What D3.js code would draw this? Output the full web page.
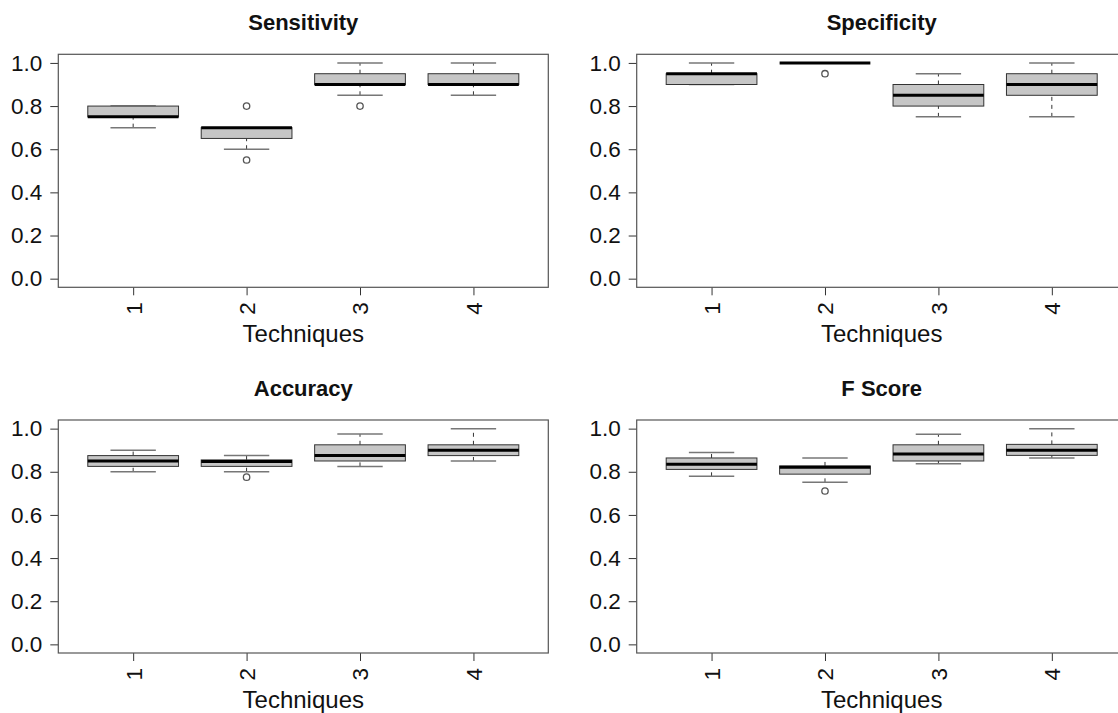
<!DOCTYPE html>
<html>
<head>
<meta charset="utf-8">
<script src="https://cdn.jsdelivr.net/npm/d3@7"></script>
<style>
  body { margin: 0; background: #fff; }
  svg { display: block; font-family: "Liberation Sans", Arial, Helvetica, sans-serif; }
  .tick line { stroke: #333; }
</style>
</head>
<body>
<div id="chart"></div>
<script>

var techniques = ["1", "2", "3", "4"];
var yTicks = [0, 0.2, 0.4, 0.6, 0.8, 1.0];

// five number summaries per technique: [lower whisker, Q1, median, Q3, upper whisker]
var sensitivity = [[0.70, 0.75, 0.75, 0.80, 0.80], [0.60, 0.65, 0.70, 0.70, 0.70], [0.85, 0.90, 0.90, 0.95, 1.00], [0.85, 0.90, 0.90, 0.95, 1.00]];
var sensitivityOut = [[], [0.55, 0.80], [0.80], []];

var specificity = [[0.90, 0.90, 0.95, 0.95, 1.00], [1.00, 1.00, 1.00, 1.00, 1.00], [0.75, 0.80, 0.85, 0.90, 0.95], [0.75, 0.85, 0.90, 0.95, 1.00]];
var specificityOut = [[], [0.95], [], []];

var accuracy = [[0.80, 0.825, 0.85, 0.875, 0.90], [0.80, 0.825, 0.848, 0.855, 0.875], [0.825, 0.85, 0.875, 0.925, 0.975], [0.85, 0.875, 0.90, 0.925, 1.00]];
var accuracyOut = [[], [0.775], [], []];

var fscore = [[0.779, 0.811, 0.835, 0.864, 0.889], [0.751, 0.789, 0.821, 0.827, 0.864], [0.837, 0.85, 0.882, 0.925, 0.974], [0.864, 0.876, 0.90, 0.927, 1.00]];
var fscoreOut = [[], [0.711], [], []];

var W = 1118, H = 713;
var plotW = 490, plotH = 233;

var svg = d3.select("#chart")
    .append("svg")
    .attr("width", W)
    .attr("height", H);

svg.append("rect").attr("width", W).attr("height", H).attr("fill", "#fff");

function BoxPanel(stats, outliers, title, left, top) {
    var chart = this;

    chart.svg = svg.append("g")
        .attr("transform", "translate(" + left + "," + top + ")");

    // R style: 4% padding beyond the data range
    chart.x = d3.scaleLinear().domain([0.34, 4.66]).range([0, plotW]);
    chart.y = d3.scaleLinear().domain([-0.04, 1.04]).range([plotH, 0]);

    var x = chart.x, y = chart.y;
    var half = 0.4, staple = 0.2;

    var yAxis = d3.axisLeft(y).tickValues(yTicks).tickFormat(d3.format(".1f")).tickSize(8).tickPadding(8);
    var xAxis = d3.axisBottom(x).tickValues([1, 2, 3, 4]).tickFormat(function(d){ return techniques[d - 1] }).tickSize(8);

    var ya = chart.svg.append("g").call(yAxis);
    ya.select(".domain").remove();
    ya.selectAll("text").attr("font-size", 22.5).attr("fill", "#111").attr("font-family", "Liberation Sans, Arial, sans-serif");

    var xa = chart.svg.append("g")
        .attr("transform", "translate(0," + plotH + ")")
        .call(xAxis);
    xa.select(".domain").remove();
    xa.selectAll("text")
        .attr("font-size", 22.5)
        .attr("fill", "#111")
        .attr("font-family", "Liberation Sans, Arial, sans-serif")
        .attr("transform", "rotate(-90)")
        .attr("text-anchor", "end")
        .attr("x", -15)
        .attr("y", 0)
        .attr("dy", "0.35em");

    var boxes = chart.svg.selectAll(".box")
        .data(stats).enter()
        .append("g")
        .attr("class", "box");

    // whiskers
    boxes.append("line")
        .attr("x1", function(d, i){ return x(i + 1) })
        .attr("x2", function(d, i){ return x(i + 1) })
        .attr("y1", function(d){ return y(d[0]) })
        .attr("y2", function(d){ return y(d[1]) })
        .attr("stroke", "#333").attr("stroke-dasharray", "4,4");
    boxes.append("line")
        .attr("x1", function(d, i){ return x(i + 1) })
        .attr("x2", function(d, i){ return x(i + 1) })
        .attr("y1", function(d){ return y(d[3]) })
        .attr("y2", function(d){ return y(d[4]) })
        .attr("stroke", "#333").attr("stroke-dasharray", "4,4");

    // staples
    [0, 4].forEach(function(k){
        boxes.append("line")
            .attr("x1", function(d, i){ return x(i + 1 - staple) })
            .attr("x2", function(d, i){ return x(i + 1 + staple) })
            .attr("y1", function(d){ return y(d[k]) })
            .attr("y2", function(d){ return y(d[k]) })
            .attr("stroke", "#777").attr("stroke-width", 1.5);
    });

    boxes.append("rect")
        .attr("x", function(d, i){ return x(i + 1 - half) })
        .attr("width", x(1 + half) - x(1 - half))
        .attr("y", function(d){ return y(d[3]) })
        .attr("height", function(d){ return y(d[1]) - y(d[3]) })
        .attr("fill", "#c6c6c6")
        .attr("stroke", "#333")
        .attr("stroke-width", 1);

    boxes.append("line")
        .attr("x1", function(d, i){ return x(i + 1 - half) })
        .attr("x2", function(d, i){ return x(i + 1 + half) })
        .attr("y1", function(d){ return y(d[2]) })
        .attr("y2", function(d){ return y(d[2]) })
        .attr("stroke", "#000").attr("stroke-width", 3);

    var pts = [];
    outliers.forEach(function(o, i){ o.forEach(function(v){ pts.push({ t: i + 1, v: v }) }) });

    chart.svg.selectAll(".out")
        .data(pts).enter()
        .append("circle")
        .attr("class", "out")
        .attr("cx", function(d){ return x(d.t) })
        .attr("cy", function(d){ return y(d.v) })
        .attr("r", 3.2)
        .attr("fill", "none")
        .attr("stroke", "#555")
        .attr("stroke-width", 1.3);

    chart.svg.append("rect")
        .attr("width", plotW)
        .attr("height", plotH)
        .attr("fill", "none")
        .attr("stroke", "#555")
        .attr("stroke-width", 1.2);

    chart.svg.append("text")
        .attr("x", plotW / 2)
        .attr("y", -24)
        .attr("text-anchor", "middle")
        .attr("font-size", 22)
        .attr("font-weight", "bold")
        .attr("fill", "#111")
        .text(title);

    chart.svg.append("text")
        .attr("x", plotW / 2)
        .attr("y", plotH + 55)
        .attr("text-anchor", "middle")
        .attr("font-size", 24)
        .attr("fill", "#111")
        .text("Techniques");
}

new BoxPanel(sensitivity, sensitivityOut, "Sensitivity", 58.3, 54.3);
new BoxPanel(specificity, specificityOut, "Specificity", 636.7, 54.3);
new BoxPanel(accuracy, accuracyOut, "Accuracy", 58.3, 420);
new BoxPanel(fscore, fscoreOut, "F Score", 636.7, 420);

</script>
</body>
</html>
